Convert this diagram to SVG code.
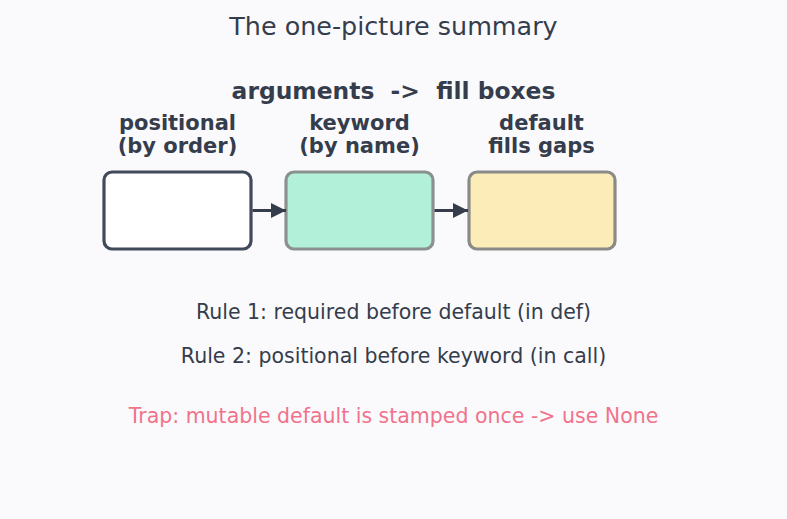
<svg xmlns="http://www.w3.org/2000/svg" width="787" height="519" viewBox="0 0 787 519">
<style>
text{font-family:"DejaVu Sans","Liberation Sans",sans-serif;fill:#353d4c;text-anchor:middle}
.title{font-size:25.4px}
.sub{font-size:23.4px;font-weight:bold}
.lbl{font-size:21px;font-weight:bold}
.rule{font-size:20.5px}
.trap{font-size:20.5px;fill:#f0738c}
.box{stroke-width:3.2}
.conn{stroke:#353d4c;stroke-width:3;fill:none}
</style>
<defs>
<marker id="arr" markerWidth="15" markerHeight="15" refX="15" refY="7.5" orient="auto" markerUnits="userSpaceOnUse">
<path d="M0,0 L15,7.5 L0,15 z" fill="#353d4c"/>
</marker>
</defs>
<rect width="787" height="519" fill="#fafafc"/>
<text class="title" x="393.5" y="34.5">The one-picture summary</text>
<text class="sub" x="393.5" y="98.5" xml:space="preserve">arguments  -&gt;  fill boxes</text>
<g id="positional">
<text class="lbl" x="177.5" y="129.5">positional</text>
<text class="lbl" x="177.5" y="152.5">(by order)</text>
<rect class="box" x="104" y="172" width="147" height="77" rx="8" fill="#ffffff" stroke="#414a5a"/>
</g>
<g id="keyword">
<text class="lbl" x="359.5" y="129.5">keyword</text>
<text class="lbl" x="359.5" y="152.5">(by name)</text>
<rect class="box" x="286" y="172" width="147" height="77" rx="8" fill="#b3f0da" stroke="#8a918f"/>
</g>
<g id="default">
<text class="lbl" x="541.5" y="129.5">default</text>
<text class="lbl" x="541.5" y="152.5">fills gaps</text>
<rect class="box" x="469" y="172" width="146" height="77" rx="8" fill="#fcedb8" stroke="#8a8a88"/>
</g>
<g id="connectors">
<line class="conn" x1="252.5" y1="210.5" x2="286" y2="210.5" marker-end="url(#arr)"/>
<line class="conn" x1="434.5" y1="210.5" x2="468" y2="210.5" marker-end="url(#arr)"/>
</g>
<text class="rule" x="393.5" y="318.5">Rule 1: required before default (in def)</text>
<text class="rule" x="393.5" y="362.5">Rule 2: positional before keyword (in call)</text>
<text class="trap" x="393.5" y="422.5">Trap: mutable default is stamped once -&gt; use None</text>
</svg>
